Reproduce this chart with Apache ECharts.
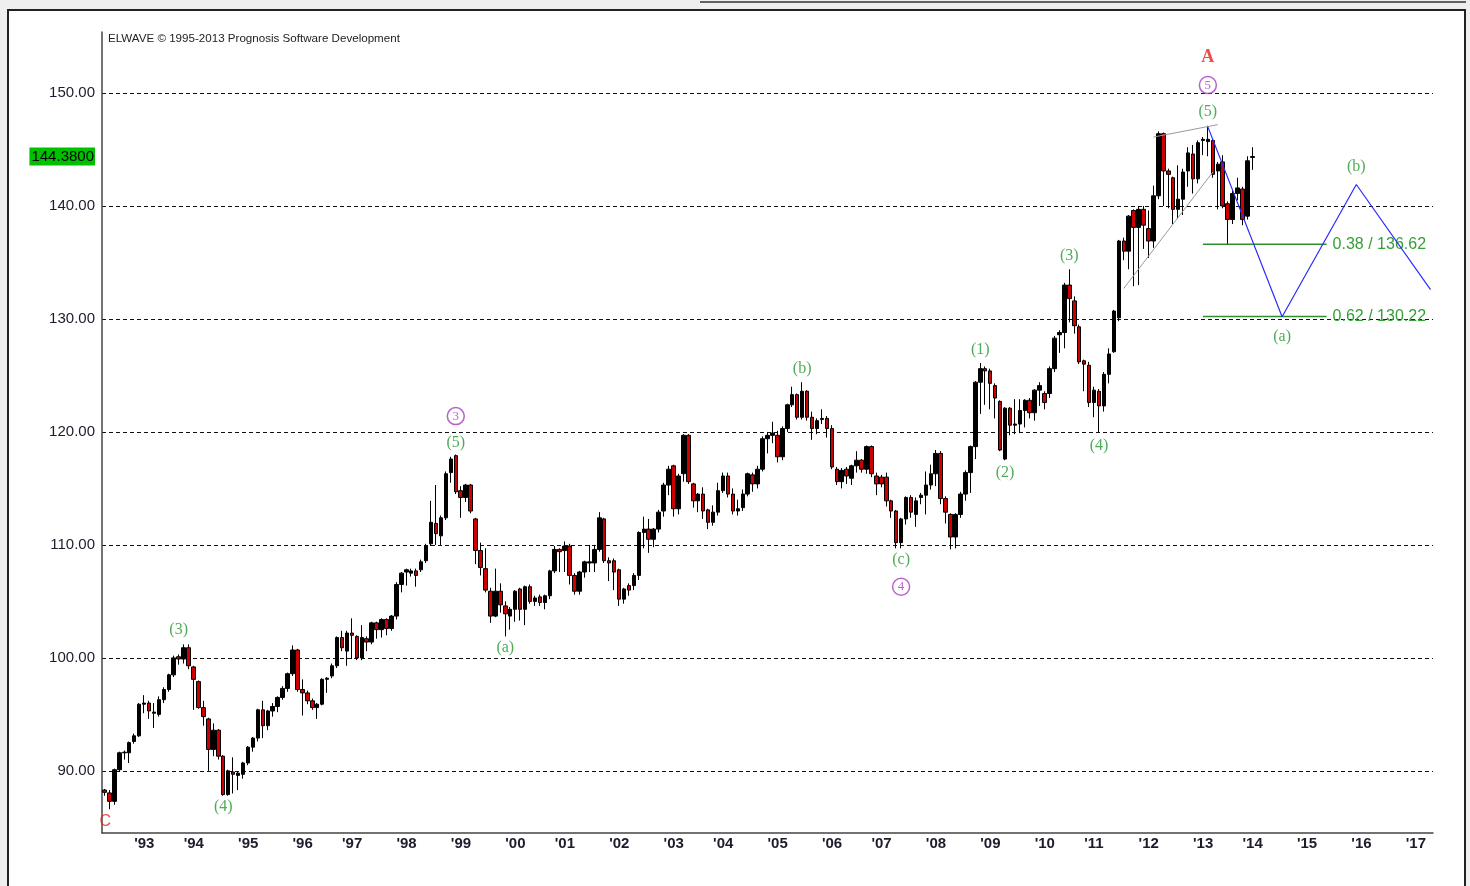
<!DOCTYPE html>
<html>
<head>
<meta charset="utf-8">
<title>ELWAVE</title>
<script src="https://cdn.jsdelivr.net/npm/echarts@6/dist/echarts.min.js"></script>
<style>
  html, body { margin: 0; padding: 0; background: #efefef; }
  #chart { width: 1470px; height: 886px; }
</style>
</head>
<body>
<div id="chart"></div>
<script>
// Bar periods on the x axis (one slot per candle, incl. the empty projection area)
const categories = Array.from({ length: 269 }, (_, i) => 'P' + i);

// Year ticks: slot index where each year starts, and its label
const yearStart = [6, 16, 27, 38, 48, 59, 70, 81, 91, 102, 113, 123, 134, 145, 155, 166, 177, 188, 198, 209, 220, 230, 241, 252, 263];
const yearLabels = ["'93", "'94", "'95", "'96", "'97", "'98", "'99", "'00", "'01", "'02", "'03", "'04", "'05", "'06", "'07", "'08", "'09", "'10", "'11", "'12", "'13", "'14", "'15", "'16", "'17"];

// Candles: [open, close, low, high]
const ohlc = [
  [88.3, 88.1, 87.8, 88.4], [88.05, 87.3, 86.6, 88.3], [87.3, 90.1, 87.0, 90.2], [90.1, 91.6, 89.9, 91.7], [91.6, 91.65, 91.0, 91.8],
  [91.6, 92.5, 90.7, 92.6], [92.6, 93.1, 92.4, 93.3], [93.1, 95.9, 93.0, 96.0], [95.9, 96.0, 95.1, 96.7], [96.0, 95.3, 94.6, 96.2],
  [95.1, 95.2, 93.8, 96.0], [95.0, 96.3, 94.8, 96.6], [96.3, 97.2, 96.0, 97.4], [97.2, 98.5, 97.0, 98.6], [98.5, 100.0, 98.3, 100.2],
  [100.1, 99.9, 99.4, 100.3], [99.9, 100.9, 99.5, 101.2], [100.9, 99.3, 99.0, 101.2], [99.2, 98.1, 95.4, 99.3], [97.9, 95.6, 95.5, 98.0],
  [95.6, 94.8, 94.0, 96.2], [94.6, 91.9, 90.0, 94.7], [91.9, 93.6, 91.3, 94.2], [93.6, 91.3, 91.0, 93.7], [91.3, 87.9, 87.8, 91.4],
  [87.9, 90.0, 87.8, 90.1], [89.9, 89.7, 88.0, 91.2], [89.6, 89.8, 88.3, 89.9], [89.7, 90.7, 89.3, 90.8], [90.7, 92.1, 90.5, 92.2],
  [92.1, 92.9, 91.7, 93.0], [92.9, 95.4, 92.6, 95.5], [95.4, 94.0, 92.9, 96.2], [94.0, 95.3, 93.6, 95.4], [95.3, 95.7, 94.8, 96.0],
  [95.7, 96.5, 95.2, 96.6], [96.5, 97.3, 96.3, 97.5], [97.3, 98.6, 97.0, 98.7], [98.6, 100.7, 98.4, 101.1], [100.7, 97.2, 97.0, 100.8],
  [97.2, 96.9, 94.9, 98.1], [96.9, 96.2, 95.9, 97.1], [96.2, 95.6, 95.4, 96.4], [95.6, 95.9, 94.6, 96.0], [95.9, 98.1, 95.8, 98.2],
  [98.1, 98.2, 96.9, 98.3], [98.4, 99.3, 98.2, 99.5], [99.3, 101.8, 99.1, 101.9], [101.8, 100.9, 100.6, 102.4], [100.6, 102.2, 99.3, 102.4],
  [102.2, 102.0, 99.9, 103.5], [101.9, 100.0, 99.8, 102.0], [100.0, 101.8, 99.8, 102.9], [101.7, 101.4, 100.6, 101.9], [101.4, 103.1, 101.2, 103.2],
  [103.1, 102.5, 101.7, 103.2], [102.5, 103.4, 101.8, 103.5], [103.4, 102.6, 102.0, 103.5], [102.6, 103.7, 102.4, 103.8], [103.7, 106.5, 103.4, 106.7],
  [106.5, 107.5, 105.8, 107.6], [107.6, 107.8, 106.4, 107.9], [107.5, 107.7, 107.2, 107.9], [107.7, 107.3, 106.3, 107.9], [107.8, 108.5, 107.6, 108.7],
  [108.6, 109.9, 108.4, 110.1], [110.1, 112.0, 109.9, 113.9], [111.9, 111.0, 110.0, 115.3], [110.8, 112.4, 110.0, 112.6], [112.4, 116.3, 112.2, 116.5],
  [116.4, 117.6, 115.5, 117.8], [117.9, 114.7, 114.5, 118.0], [114.8, 114.2, 112.4, 115.2], [114.2, 115.3, 113.8, 115.4], [115.3, 113.0, 112.8, 115.4],
  [112.3, 109.5, 108.3, 112.4], [109.5, 108.0, 107.3, 110.2], [107.9, 106.0, 105.8, 109.7], [105.9, 103.7, 103.1, 106.2], [103.7, 105.9, 103.6, 107.9],
  [105.9, 104.7, 104.0, 106.6], [104.6, 103.9, 101.9, 105.0], [103.7, 104.3, 102.5, 104.5], [104.3, 105.9, 103.2, 106.0], [106.1, 104.3, 103.3, 106.2],
  [104.3, 106.3, 102.9, 106.4], [106.3, 105.0, 104.8, 106.5], [105.0, 105.3, 104.6, 105.5], [105.4, 104.9, 104.6, 105.6], [104.9, 105.5, 104.3, 105.6],
  [105.5, 107.7, 105.2, 107.8], [107.7, 109.6, 107.5, 109.9], [109.6, 109.4, 107.6, 109.7], [109.5, 109.9, 107.6, 110.3], [109.9, 107.3, 106.5, 110.1],
  [107.3, 105.9, 105.6, 107.5], [105.9, 107.6, 105.6, 107.7], [107.6, 108.5, 107.1, 108.6], [108.4, 108.5, 107.6, 110.0], [108.4, 109.6, 107.6, 110.0],
  [109.6, 112.4, 109.4, 112.9], [112.3, 108.6, 108.4, 112.4], [108.6, 108.4, 106.8, 108.9], [108.6, 107.6, 106.0, 108.8], [107.8, 105.2, 104.6, 107.9],
  [105.2, 106.1, 104.8, 106.2], [106.4, 106.0, 105.5, 106.6], [106.4, 107.3, 106.0, 107.5], [107.3, 111.1, 106.9, 111.2], [111.1, 111.4, 109.7, 112.5],
  [111.4, 110.5, 109.3, 112.3], [110.5, 111.4, 109.8, 111.5], [111.4, 112.9, 111.1, 113.1], [113.0, 115.3, 112.5, 115.5], [115.3, 116.7, 114.4, 117.0],
  [117.0, 113.2, 112.5, 117.1], [113.2, 116.1, 112.7, 116.3], [116.3, 119.7, 115.6, 119.8], [119.7, 115.6, 115.4, 119.8], [115.4, 113.9, 113.3, 115.5],
  [113.9, 114.5, 112.9, 114.6], [114.5, 113.0, 112.3, 115.1], [113.1, 112.0, 111.4, 113.2], [112.0, 112.9, 111.7, 113.5], [112.9, 114.8, 112.6, 115.5],
  [114.8, 116.1, 114.6, 116.4], [116.1, 114.5, 114.2, 116.4], [114.5, 113.0, 112.7, 115.0], [113.0, 113.2, 112.6, 114.0], [113.3, 114.5, 113.0, 114.9],
  [114.5, 116.3, 114.3, 116.4], [116.2, 115.4, 114.7, 116.4], [115.4, 116.7, 115.0, 117.0], [116.7, 119.4, 116.5, 119.6], [119.4, 119.7, 118.1, 120.0],
  [119.7, 119.9, 119.0, 120.9], [119.7, 117.8, 117.3, 120.1], [117.8, 120.3, 117.5, 120.5], [120.3, 122.4, 120.0, 122.5], [122.4, 123.3, 122.2, 124.0],
  [123.3, 121.3, 121.1, 123.4], [121.3, 123.6, 121.1, 124.4], [123.6, 121.3, 121.0, 123.7], [121.3, 120.3, 119.3, 121.8], [120.3, 121.0, 119.8, 121.2],
  [121.1, 121.2, 120.7, 122.0], [121.2, 120.3, 119.5, 121.4], [120.3, 116.9, 116.7, 120.6], [116.7, 115.6, 115.3, 116.9], [115.6, 116.6, 115.0, 116.8],
  [116.7, 116.1, 115.4, 116.9], [115.9, 117.0, 115.3, 117.1], [117.0, 117.5, 116.4, 118.3], [117.5, 116.7, 116.4, 117.6], [116.7, 118.7, 116.3, 118.8],
  [118.7, 116.3, 116.0, 118.8], [116.1, 115.4, 114.4, 116.4], [116.0, 115.4, 115.1, 116.2], [116.0, 113.9, 113.4, 116.4], [113.9, 113.0, 112.4, 114.0],
  [113.0, 110.2, 109.7, 113.1], [110.2, 112.3, 109.7, 112.4], [112.3, 114.2, 111.8, 114.3], [114.2, 112.9, 112.4, 114.4], [112.7, 113.9, 111.6, 114.2],
  [114.2, 114.4, 113.6, 114.6], [114.4, 115.3, 112.7, 116.5], [115.3, 116.3, 114.9, 117.1], [116.3, 118.1, 115.2, 118.4], [118.1, 114.1, 113.6, 118.3],
  [114.1, 112.9, 111.9, 114.3], [112.7, 110.7, 109.6, 112.8], [110.7, 112.7, 109.7, 112.8], [112.7, 114.5, 112.4, 114.7], [114.5, 116.4, 113.9, 116.6],
  [116.4, 118.7, 114.6, 118.8], [118.7, 124.4, 117.6, 124.5], [124.4, 125.6, 121.6, 126.1], [125.6, 125.4, 122.4, 125.8], [125.4, 124.3, 122.0, 125.6],
  [124.1, 123.0, 121.2, 124.3], [122.7, 118.4, 118.3, 122.8], [117.6, 122.1, 117.5, 122.2], [122.1, 120.6, 119.7, 122.2], [120.6, 120.7, 119.8, 122.9],
  [120.7, 121.9, 119.9, 122.9], [121.9, 122.8, 120.4, 122.9], [122.8, 121.7, 121.2, 123.0], [121.7, 123.7, 121.0, 123.8], [123.7, 124.1, 122.3, 124.4],
  [123.4, 122.6, 122.0, 123.6], [123.4, 125.6, 123.0, 125.8], [125.6, 128.3, 125.3, 128.5], [128.6, 128.8, 127.0, 129.0], [128.8, 133.0, 127.4, 133.2],
  [133.0, 131.8, 129.7, 134.4], [131.6, 129.4, 128.7, 132.0], [129.3, 126.2, 126.0, 129.5], [126.3, 126.0, 123.6, 126.4], [125.9, 122.6, 122.2, 126.2],
  [122.6, 123.7, 121.3, 124.0], [123.6, 122.3, 120.0, 123.8], [122.3, 125.1, 121.8, 125.3], [125.1, 126.9, 124.3, 127.4], [127.1, 130.7, 127.0, 130.8],
  [130.1, 136.9, 129.8, 137.0], [136.9, 136.0, 135.2, 137.2], [136.0, 139.1, 134.4, 139.2], [139.6, 138.1, 132.9, 139.7], [138.1, 139.7, 133.0, 140.0],
  [139.7, 138.3, 136.2, 140.0], [138.0, 136.9, 135.4, 139.6], [136.9, 140.9, 136.3, 141.8], [140.9, 146.4, 140.6, 146.6], [146.4, 143.1, 140.0, 146.5],
  [143.1, 142.8, 139.8, 143.3], [142.5, 139.7, 138.4, 142.6], [139.7, 140.6, 138.9, 143.6], [140.6, 143.0, 139.2, 143.3], [143.1, 144.7, 141.7, 145.2],
  [144.6, 142.4, 141.1, 145.4], [142.4, 145.6, 142.0, 145.8], [145.8, 145.9, 144.5, 146.1], [145.7, 145.9, 144.4, 147.1], [145.8, 142.8, 142.5, 145.9],
  [143.1, 143.7, 139.7, 143.9], [143.9, 140.0, 139.8, 144.5], [140.2, 138.8, 136.6, 140.4], [138.8, 141.1, 138.4, 141.4], [141.1, 141.6, 140.5, 142.5],
  [141.5, 138.8, 138.3, 141.7], [139.1, 144.0, 138.8, 144.4], [144.3, 144.38, 143.2, 145.2]
];
const lastPrice = 144.38;

// Projected wave path (slot, price) and the wedge boundaries
const projection = [[223, 147.0], [238, 130.2], [253, 141.9], [268, 132.6]];
const wedgeUpper = [[212, 146.1], [225, 147.2]];
const wedgeLower = [[206, 132.7], [224, 143.0]];

// Fibonacci retracement targets
const fibRatios = ['0.38', '0.62'];
const fibValues = [136.62, 130.22];
const fibSpan = [222, 247];

// Wave labels: [text, slot, price]
const greenLabels = [
  ['(3)', 15, 102.5], ['(4)', 24, 86.8], ['(5)', 71, 119.0], ['(a)', 81, 100.9], ['(b)', 141, 125.6],
  ['(c)', 161, 108.7], ['(1)', 177, 127.3], ['(2)', 182, 116.4], ['(3)', 195, 135.6], ['(4)', 201, 118.8],
  ['(5)', 223, 148.3], ['(a)', 238, 128.4], ['(b)', 253, 143.5]
];
const purpleLabels = [['3', 71, 121.4], ['4', 161, 106.3], ['5', 223, 150.7]];
const redLabels = [['A', 223, 153.2], ['C', 0, 85.5]];

const yearSet = new Set(yearStart);
const yearText = new Map(yearStart.map((s, i) => [s, yearLabels[i]]));

const GREEN = '#23962f';
const PURPLE = '#a63cc0';
const RED = '#e8241c';
const SANS = 'Liberation Sans, Arial, sans-serif';
const SERIF = 'Liberation Serif, Times New Roman, serif';

const chart = echarts.init(document.getElementById('chart'));

const fibSeries = fibValues.map((v, i) => ({
  type: 'line',
  data: [[fibSpan[0], v], [fibSpan[1], v]],
  symbol: 'none',
  silent: true,
  lineStyle: { color: '#2f8f2f', width: 1.5 },
  endLabel: {
    show: true,
    formatter: fibRatios[i] + ' / ' + v.toFixed(2),
    color: '#35a035',
    fontSize: 16,
    fontFamily: SANS,
    distance: 6
  },
  z: 3
}));

const option = {
  backgroundColor: 'transparent',
  animation: false,
  graphic: [
    { type: 'line', shape: { x1: 700, y1: 2, x2: 1466, y2: 2 }, style: { stroke: '#333', lineWidth: 1.5 }, z: -2 },
    { type: 'rect', shape: { x: 8, y: 10, width: 1457, height: 890 }, style: { fill: '#fff', stroke: '#222', lineWidth: 2 }, z: -1 }
  ],
  title: {
    text: 'ELWAVE \u00A9 1995-2013 Prognosis Software Development',
    left: 108,
    top: 33,
    padding: 0,
    textStyle: { fontSize: 11.6, fontWeight: 'normal', color: '#222', fontFamily: SANS }
  },
  grid: { left: 102, right: 37, top: 32, bottom: 53, containLabel: false },
  xAxis: [
    {
      type: 'category',
      data: categories,
      position: 'bottom',
      boundaryGap: true,
      axisLine: { lineStyle: { color: '#444', width: 1.5 } },
      axisTick: { interval: (i) => yearSet.has(i), length: 16, lineStyle: { color: '#333', width: 1.5 } },
      axisLabel: {
        interval: (i) => yearSet.has(i),
        formatter: (v, i) => yearText.get(i) || '',
        align: 'left',
        margin: 3,
        fontSize: 15,
        fontWeight: 'bold',
        color: '#1c1c2c',
        fontFamily: SANS
      },
      splitLine: { show: false }
    },
    {
      type: 'category',
      data: categories,
      position: 'bottom',
      boundaryGap: true,
      axisLine: { show: false },
      axisTick: { interval: 0, length: 3, lineStyle: { color: '#444' } },
      axisLabel: { show: false },
      splitLine: { show: false }
    }
  ],
  yAxis: {
    type: 'value',
    min: 84.5,
    max: 155.4,
    splitNumber: 7,
    axisLine: { show: true, lineStyle: { color: '#444', width: 1.5 } },
    axisTick: { show: false },
    axisLabel: {
      formatter: (v) => (Math.abs(v % 10) < 1e-6 ? v.toFixed(2) : ''),
      color: '#1c1c2c',
      fontSize: 15,
      margin: 7,
      fontFamily: SANS
    },
    splitLine: {
      show: true,
      showMinLine: false,
      showMaxLine: false,
      lineStyle: { color: '#111', type: [4, 3], width: 1 }
    }
  },
  series: [
    {
      type: 'candlestick',
      data: ohlc,
      barWidth: 4,
      itemStyle: {
        color: '#000',
        color0: '#cc0000',
        borderColor: '#000',
        borderColor0: '#000',
        borderWidth: 1
      },
      markLine: {
        silent: true,
        symbol: ['none', 'none'],
        lineStyle: { color: 'rgba(0,0,0,0)', width: 0 },
        label: {
          position: 'start',
          distance: 7,
          formatter: lastPrice.toFixed(4),
          backgroundColor: '#00c000',
          color: '#000',
          fontSize: 15,
          padding: [2, 1, 1, 2],
          fontFamily: SANS
        },
        data: [{ yAxis: lastPrice }]
      },
      z: 2
    },
    {
      type: 'line',
      data: wedgeUpper,
      symbol: 'none',
      silent: true,
      lineStyle: { color: '#9a9a9a', width: 1 },
      z: 3
    },
    {
      type: 'line',
      data: wedgeLower,
      symbol: 'none',
      silent: true,
      lineStyle: { color: '#9a9a9a', width: 1 },
      z: 3
    },
    {
      type: 'line',
      data: projection,
      symbol: 'none',
      silent: true,
      lineStyle: { color: '#2b2bff', width: 1.2 },
      z: 4
    },
    ...fibSeries,
    {
      type: 'scatter',
      data: greenLabels.map(([t, x, y]) => ({ name: t, value: [x, y] })),
      symbolSize: 1,
      itemStyle: { color: 'rgba(0,0,0,0)' },
      silent: true,
      label: {
        show: true,
        position: 'inside',
        formatter: '{b}',
        color: GREEN,
        fontSize: 16,
        fontFamily: SERIF
      },
      z: 5
    },
    {
      type: 'scatter',
      data: purpleLabels.map(([t, x, y]) => ({ name: t, value: [x, y] })),
      symbol: 'circle',
      symbolSize: 17,
      itemStyle: { color: 'rgba(0,0,0,0)', borderColor: PURPLE, borderWidth: 1.5 },
      silent: true,
      label: {
        show: true,
        position: 'inside',
        formatter: '{b}',
        color: PURPLE,
        fontSize: 13,
        fontFamily: SERIF
      },
      z: 5
    },
    {
      type: 'scatter',
      data: redLabels.map(([t, x, y]) => ({
        name: t,
        value: [x, y],
        label: t === 'A'
          ? { fontFamily: SERIF, fontSize: 18, fontWeight: 'bold' }
          : { fontFamily: SANS, fontSize: 16, align: 'left', offset: [-5, 0] }
      })),
      symbolSize: 1,
      itemStyle: { color: 'rgba(0,0,0,0)' },
      silent: true,
      label: { show: true, position: 'inside', formatter: '{b}', color: RED },
      z: 5
    }
  ]
};

chart.setOption(option);
window.addEventListener('resize', () => chart.resize());
</script>
</body>
</html>
